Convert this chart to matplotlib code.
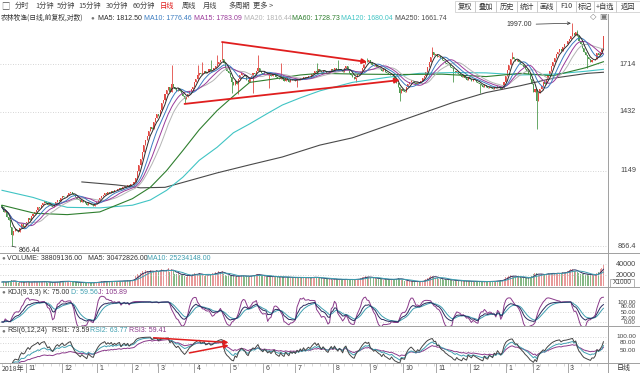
import matplotlib
matplotlib.use("Agg")
import matplotlib.pyplot as plt
import matplotlib.transforms as mtransforms
from matplotlib.lines import Line2D
from matplotlib.patches import Rectangle
import numpy as np
import pandas as pd

# ---- data (daily bars) ----
closes = [
    1002, 985, 990, 968, 955, 930, 905, 918, 925, 920,
    912, 928, 940, 932, 936, 950, 962, 955, 970, 978,
    985, 992, 1004, 998, 1012, 1020, 1025, 1018, 1010, 1015,
    1008, 1002, 1010, 1022, 1030, 1026, 1036, 1045, 1040, 1042,
    1050, 1058, 1062, 1055, 1048, 1040, 1035, 1030, 1024, 1028,
    1022, 1018, 1012, 1020, 1015, 1010, 1008, 1015, 1022, 1030,
    1038, 1045, 1050, 1056, 1052, 1060, 1058, 1066, 1062, 1070,
    1068, 1074, 1078, 1072, 1080, 1085, 1082, 1090, 1086, 1092,
    1095, 1100, 1120, 1150, 1175, 1200, 1232, 1265, 1290, 1310,
    1335, 1355, 1345, 1380, 1400, 1420, 1410, 1445, 1480, 1500,
    1530, 1555, 1570, 1545, 1590, 1575, 1560, 1548, 1565, 1552,
    1535, 1520, 1505, 1515, 1530, 1548, 1560, 1575, 1600, 1620,
    1645, 1660, 1648, 1655, 1670, 1658, 1665, 1680, 1672, 1676,
    1690, 1700, 1715, 1728, 1740, 1745, 1720, 1690, 1670, 1655,
    1630, 1600, 1585, 1610, 1590, 1620, 1645, 1660, 1650, 1640,
    1615, 1600, 1625, 1640, 1655, 1650, 1668, 1690, 1672, 1660,
    1650, 1665, 1658, 1645, 1652, 1640, 1648, 1655, 1635, 1628,
    1620, 1632, 1618, 1610, 1625, 1615, 1605, 1620, 1612, 1618,
    1610, 1622, 1615, 1628, 1620, 1635, 1625, 1632, 1640, 1636,
    1648, 1660, 1672, 1665, 1680, 1670, 1662, 1675, 1668, 1660,
    1655, 1668, 1680, 1672, 1688, 1678, 1670, 1682, 1676, 1665,
    1690, 1700, 1680, 1660, 1645, 1630, 1620, 1635, 1648, 1655,
    1670, 1690, 1712, 1730, 1725, 1740, 1718, 1710, 1700, 1705,
    1698, 1690, 1685, 1672, 1680, 1665, 1660, 1650, 1642, 1648,
    1630, 1610, 1595, 1570, 1540, 1560, 1552, 1545, 1570, 1590,
    1605, 1615, 1608, 1598, 1590, 1602, 1596, 1610, 1625, 1640,
    1665, 1695, 1725, 1760, 1790, 1775, 1782, 1760, 1768, 1750,
    1740, 1735, 1722, 1715, 1705, 1698, 1690, 1672, 1660, 1668,
    1650, 1642, 1630, 1638, 1625, 1615, 1630, 1620, 1610, 1618,
    1612, 1605, 1598, 1590, 1582, 1575, 1585, 1570, 1565, 1575,
    1568, 1560, 1572, 1565, 1578, 1570, 1560, 1568, 1600, 1640,
    1675, 1710, 1745, 1762, 1748, 1735, 1740, 1725, 1715, 1705,
    1695, 1680, 1668, 1650, 1620, 1590, 1545, 1560, 1490, 1535,
    1560, 1580, 1600, 1590, 1620, 1645, 1670, 1700, 1730, 1755,
    1780, 1795, 1810, 1800, 1830, 1845, 1850, 1865, 1880, 1900,
    1925, 1910, 1935, 1900, 1870, 1850, 1820, 1790, 1775, 1760,
    1745, 1730, 1742, 1738, 1748, 1785, 1775, 1790, 1812, 1900,
]
first_open = 1010
wick_high = {104: 1710, 120: 1708, 123: 1727, 128: 1740, 132: 1774,
             135: 1860, 157: 1775, 171: 1720, 193: 1720, 206: 1740,
             224: 1752, 264: 1825, 313: 1790, 350: 1997, 353: 1950, 369: 1900}
wick_low = {6: 866.44, 112: 1480, 141: 1540, 145: 1530, 154: 1540,
            164: 1565, 181: 1570, 217: 1600, 244: 1490, 277: 1600,
            293: 1540, 328: 1345, 359: 1690}

volumes = [  # x1000
    7200, 8100, 6500, 7800, 9200, 8800, 10500, 9000, 7600, 6900,
    6200, 7400, 8300, 6800, 7100, 7900, 8600, 6400, 7000, 7700,
    8200, 7500, 6900, 7300, 8000, 9100, 8400, 6700, 6300, 7100,
    6600, 6100, 7000, 7600, 8100, 7400, 8900, 9400, 8200, 7700,
    8500, 9000, 7800, 7200, 6800, 6400, 6900, 6200, 5900, 6300,
    6000, 5700, 6100, 6600, 5800, 5500, 6200, 6800, 7100, 7600,
    7900, 8300, 7400, 8600, 8000, 7300, 8800, 9200, 8400, 8700,
    8100, 8900, 9500, 8600, 9300, 9900, 8800, 10200, 9600, 10800,
    11500, 13000, 17500, 22000, 20500, 24000, 26500, 23000, 28500, 27000,
    25000, 29500, 24500, 27500, 26000, 30000, 25500, 28000, 31000, 27500,
    26000, 29000, 32000, 25500, 30500, 27000, 22500, 21000, 23500, 20000,
    19500, 22000, 18500, 17000, 19000, 20500, 18000, 21500, 23000, 22500,
    21000, 24000, 19500, 20500, 18500, 22000, 19000, 21500, 20000, 23000,
    22500, 25000, 24000, 26500, 23500, 28000, 22000, 19500, 18000, 20500,
    19000, 17500, 18500, 16500, 17800, 19200, 18000, 20000, 17500, 16800,
    18200, 17000, 19000, 18500, 20500, 19500, 21500, 22500, 19000, 18000,
    17500, 18800, 17200, 16500, 18000, 17600, 16200, 17800, 16800, 15500,
    16000, 17200, 15800, 16600, 15200, 16800, 15500, 14800, 16200, 15000,
    15600, 14500, 16000, 15200, 14800, 16400, 15000, 14200, 15500, 14800,
    15800, 17000, 16200, 15000, 14500, 13800, 14600, 13500, 12800, 13200,
    12500, 13600, 12200, 11800, 12800, 12000, 11500, 12400, 11800, 11200,
    12000, 12800, 11600, 11000, 11800, 12500, 11200, 12600, 13000, 12200,
    13800, 15500, 16800, 17500, 16200, 15800, 14800, 15500, 14200, 13800,
    13200, 12800, 13600, 12200, 11800, 12500, 11600, 12000, 11200, 12400,
    11800, 12600, 13500, 14200, 13000, 11500, 10800, 9800, 9200, 8800,
    8500, 9000, 8200, 7800, 8600, 8000, 7500, 8300, 9200, 10500,
    12500, 14800, 16500, 17800, 18500, 16200, 15000, 14200, 13500, 12800,
    12200, 11800, 12500, 11200, 10800, 11500, 10200, 9800, 10500, 9600,
    9200, 9800, 8800, 9500, 8600, 9000, 8400, 8800, 8200, 8600,
    8000, 8500, 7800, 8200, 7600, 8100, 7500, 8300, 7900, 8400,
    8200, 8800, 8500, 9200, 9800, 9400, 10200, 11000, 13500, 15500,
    17000, 18500, 19500, 18000, 16500, 17200, 15800, 16800, 15500, 14800,
    15200, 14500, 13800, 15000, 16500, 18500, 21000, 24500, 23000, 20500,
    19500, 21000, 22500, 20800, 21800, 23500, 22000, 24000, 23200, 21500,
    22800, 24500, 23500, 22000, 25500, 24000, 26000, 27500, 29500, 31000,
    30500, 28000, 26500, 24800, 23500, 22000, 21500, 22800, 20500, 21800,
    21000, 19800, 19500, 19200, 20500, 23000, 26000, 31500, 33000, 38809,
]

# long moving averages (history precedes the window)
ma60_bars = [0, 20, 40, 60, 80, 91, 101, 111, 121, 132, 142, 152, 163, 183,
             195, 220, 245, 270, 297, 318, 338, 358, 369]
ma60_vals = [1010, 980, 975, 985, 1035, 1080, 1150, 1240, 1340, 1440, 1520,
             1600, 1615, 1645, 1655, 1650, 1648, 1650, 1635, 1655, 1640, 1690,
             1728.73]
ma120_bars = [0, 19, 29, 40, 60, 80, 91, 101, 111, 121, 132, 142, 152, 163,
              172, 183, 195, 215, 236, 256, 277, 297, 318, 338, 358, 369]
ma120_vals = [1068, 1040, 1020, 1002, 1000, 1010, 1030, 1068, 1122, 1195, 1255,
              1325, 1370, 1425, 1470, 1510, 1550, 1600, 1630, 1655, 1660, 1658,
              1645, 1650, 1668, 1680.04]
ma250_bars = [49, 70, 85, 100, 111, 132, 152, 172, 195, 215, 236, 256, 277,
              297, 318, 338, 359, 369]
ma250_vals = [1102, 1090, 1078, 1080, 1100, 1140, 1175, 1210, 1265, 1300, 1360,
              1420, 1485, 1540, 1580, 1625, 1655, 1661.74]

month_bars = [15, 37, 58, 80, 96, 118, 140, 160, 180, 203, 226, 246, 266, 287,
              309, 326, 347]
month_labels = ['11', '12', '1', '2', '3', '4', '5', '6', '7', '8', '9', '10',
                '11', '12', '1', '2', '3']
price_ticks = [1714, 1432, 1149, 866.4]

# hand-drawn trend arrows: (bar, value) start -> end
price_arrows = [((135, 1861), (224, 1727)), ((112, 1476), (244, 1614))]
rsi_arrows = [((93, 97), (139, 80)), ((115, 43), (139, 70))]

# ---- style ----
CN = ['Noto Sans CJK SC', 'DejaVu Sans']
NUM = ['Liberation Sans', 'DejaVu Sans']
FS = 5.0
UP, DOWN = '#e24a44', '#4f9a4f'
C_MA = {'MA5': '#2a2a2a', 'MA10': '#3b7cc0', 'MA15': '#9a3a9a',
        'MA20': '#b4b4b4', 'MA60': '#2f7f2f', 'MA120': '#40c4c4',
        'MA250': '#4a4a4a'}
C_K, C_D, C_J = '#2b2b5e', '#3f9fb0', '#8b3a8b'
GRID = dict(color='#c8c8c8', lw=0.6, ls=(0, (1, 2)))
SEP = '#a0a0a0'

W, H = 640, 373
fig = plt.figure(figsize=(6.4, 3.73), dpi=100)


def rect(x0, y0, x1, y1):
    return [x0 / W, 1 - y1 / H, (x1 - x0) / W, (y1 - y0) / H]


def ftext(x, y, s, **kw):
    kw.setdefault('va', 'center')
    kw.setdefault('fontsize', FS)
    fig.text(x / W, 1 - y / H, s, **kw)


def hline(y, x0=0, x1=W, **kw):
    fig.add_artist(Line2D([x0 / W, x1 / W], [1 - y / H, 1 - y / H], **kw))


def vline(x, y0, y1, **kw):
    fig.add_artist(Line2D([x / W, x / W], [1 - y0 / H, 1 - y1 / H], **kw))


def sma(x, n, m=1):
    x = np.asarray(x, float)
    out = np.empty_like(x)
    out[0] = x[0]
    for i in range(1, len(x)):
        out[i] = (m * x[i] + (n - m) * out[i - 1]) / n
    return out


# ---- derived series ----
c = np.array(closes, float)
o = np.r_[first_open, c[:-1]]
hi = np.maximum(o, c)
lo = np.minimum(o, c)
for k, v in wick_high.items():
    hi[k] = v
for k, v in wick_low.items():
    lo[k] = v
x = np.arange(len(c))
up = c >= o
cols = np.where(up, UP, DOWN)
s = pd.Series(c)
mas = {n: s.rolling(n, min_periods=1).mean() for n in (5, 10, 15, 20)}

llv = pd.Series(lo).rolling(9, min_periods=1).min().values
hhv = pd.Series(hi).rolling(9, min_periods=1).max().values
rsv = np.where(hhv > llv, (c - llv) / np.maximum(hhv - llv, 1e-9) * 100, 50)
K = sma(rsv, 3)
D = sma(K, 3)
J = 3 * K - 2 * D

diff = np.r_[0.0, np.diff(c)]
gain = np.maximum(diff, 0)
absd = np.abs(diff)


def rsi(n):
    a, b = sma(gain[1:], n), sma(absd[1:], n)
    r = np.where(b > 0, a / np.maximum(b, 1e-9) * 100, 50)
    return np.r_[r[0], r]


vol = np.array(volumes, float)
vma5 = pd.Series(vol).rolling(5, min_periods=1).mean()
vma10 = pd.Series(vol).rolling(10, min_periods=1).mean()

XL = (-1.23, 371.8)


def base(ax):
    ax.set_xlim(*XL)
    ax.tick_params(which='both', left=False, labelleft=False,
                   bottom=False, labelbottom=False)
    for sp in ax.spines.values():
        sp.set_visible(False)
    ax.patch.set_alpha(0)


def right_labels(ax, vals, fmt, fs=5.2):
    tr = mtransforms.blended_transform_factory(fig.transFigure, ax.transData)
    for v in vals:
        ax.text(636 / W, v, fmt % v, transform=tr, ha='right', va='center',
                fontsize=fs, family=NUM, color='#444444')


# ---- main price panel ----
ax = fig.add_axes(rect(0, 14, 608, 253))
ax.set_yscale('log')
ax.set_ylim(844.5, 2067)
base(ax)
for p in price_ticks:
    ax.axhline(p, **GRID)
ax.vlines(x, lo, hi, colors=cols, lw=0.6)
ax.bar(x, np.abs(c - o), bottom=np.minimum(o, c), width=0.65, color=cols, lw=0)
ax.plot(ma250_bars, ma250_vals, color=C_MA['MA250'], lw=0.8)
ax.plot(ma120_bars, ma120_vals, color=C_MA['MA120'], lw=0.8)
ax.plot(ma60_bars, ma60_vals, color=C_MA['MA60'], lw=0.8)
ax.plot(x, mas[20], color=C_MA['MA20'], lw=0.7)
ax.plot(x, mas[15], color=C_MA['MA15'], lw=0.7)
ax.plot(x, mas[10], color=C_MA['MA10'], lw=0.7)
ax.plot(x, mas[5], color=C_MA['MA5'], lw=0.7)
for (a, b) in price_arrows:
    ax.annotate('', xy=b, xytext=a,
                arrowprops=dict(arrowstyle='-|>', color='#e01e1e', lw=1.3,
                                mutation_scale=7, shrinkA=0, shrinkB=0))
ax.annotate('866.44', xy=(6, 866.44), xytext=(5, -3), textcoords='offset points',
            fontsize=FS, family=NUM, color='#333333', va='center',
            arrowprops=dict(arrowstyle='-', lw=0.5, color='#333333',
                            shrinkA=0, shrinkB=0))
ax.annotate('1997.00', xy=(349, 1997), xytext=(-28, -1), textcoords='offset points',
            fontsize=FS, family=NUM, color='#333333', va='center', ha='right',
            arrowprops=dict(arrowstyle='->', lw=0.5, color='#333333',
                            shrinkA=1, shrinkB=0, mutation_scale=5))
right_labels(ax, price_ticks, '%g')

# ---- volume panel ----
av = fig.add_axes(rect(0, 253, 608, 287))
base(av)
av.set_ylim(-1818, 60000)
for v in (20000, 40000):
    av.axhline(v, **GRID)
vcols = np.where(up, '#e89a9a', '#86b886')
av.bar(x, vol, width=0.6, color=vcols, lw=0)
av.plot(x, vma5, color=C_K, lw=0.7)
av.plot(x, vma10, color=C_D, lw=0.7)
right_labels(av, (40000, 20000), '%d')

# ---- KDJ panel ----
ak = fig.add_axes(rect(0, 287, 608, 326))
base(ak)
ak.set_ylim(-20, 175)
for v in (100, 50, 0):
    ak.axhline(v, **GRID)
ak.plot(x, J, color=C_J, lw=0.7)
ak.plot(x, D, color=C_D, lw=0.7)
ak.plot(x, K, color=C_K, lw=0.7)
right_labels(ak, (100, 80, 50, 20, 0), '%.2f', fs=4.3)

# ---- RSI panel ----
ar = fig.add_axes(rect(0, 326, 608, 363))
base(ar)
ar.set_ylim(7, 139)
for v in (100, 80, 50):
    ar.axhline(v, **GRID)
ar.plot(x, rsi(24), color=C_J, lw=0.7)
ar.plot(x, rsi(12), color=C_D, lw=0.7)
ar.plot(x, rsi(6), color='#444444', lw=0.7)
for (a, b) in rsi_arrows:
    ar.annotate('', xy=b, xytext=a,
                arrowprops=dict(arrowstyle='-|>', color='#e01e1e', lw=1.1,
                                mutation_scale=6, shrinkA=0, shrinkB=0))
right_labels(ar, (100, 80, 50), '%.2f', fs=4.6)

# ---- date row ----
ad = fig.add_axes(rect(0, 363, 608, 373))
base(ad)
ad.set_ylim(0, 1)
ad.vlines(month_bars, 0, 1, color='#999999', lw=0.6)
ad.vlines(np.arange(0, len(c), 5), 0.75, 1, color='#bbbbbb', lw=0.4)
ad.text(0, 0.45, '2018年', fontsize=FS, family=CN, color='#444444', va='center')
for b, lab in zip(month_bars, month_labels):
    ad.text(b + 1.5, 0.45, lab, fontsize=FS, family=NUM, color='#444444',
            va='center')

# ---- frame lines ----
for yy in (253, 287, 326, 363):
    hline(yy, color=SEP, lw=0.7)
vline(608, 14, 373, color=SEP, lw=0.7)
fig.add_artist(Rectangle((610 / W, 1 - 287 / H), 24 / W, 8 / H,
                         transform=fig.transFigure, fill=False, ec='#999999', lw=0.5))
ftext(622, 283, 'X1000', fontsize=4.8, family=NUM, color='#444444', ha='center')
ftext(624, 368, '日线', family=CN, color='#333333', ha='center')

# ---- toolbar ----
ftext(5, 6, '□', family=CN, color='#555555', ha='center', fontsize=6)
tabs = [(15, '分时'), (35, '1分钟'), (57, '5分钟'), (78, '15分钟'), (106, '30分钟'),
        (133, '60分钟'), (160, '日线'), (182, '周线'), (203, '月线'),
        (228, '多周期'), (253, '更多 >')]
for tx, lab in tabs:
    ftext(tx, 6, lab, family=CN, color='#e01e1e' if lab == '日线' else '#444444',
          fontsize=5.2)
btn_edges = [455, 475, 496, 517, 537, 556, 576, 594, 616, 640]
btns = ['复权', '叠加', '历史', '统计', '画线', 'F10', '标记', '+自选', '返回']
for i, lab in enumerate(btns):
    x0, x1 = btn_edges[i], btn_edges[i + 1]
    fig.add_artist(Rectangle((x0 / W, 1 - 12 / H), (x1 - x0) / W, 11 / H,
                             transform=fig.transFigure, fill=False,
                             ec='#c8c8c8', lw=0.5))
    ftext((x0 + x1) / 2, 6.5, lab, family=CN, color='#333333', ha='center',
          fontsize=5.2)

# ---- legends ----
ftext(1, 18, '农林牧渔(日线,前复权,对数)', family=CN, color='#333333', fontsize=4.9)
ftext(92, 18, '●', family=NUM, color='#777777', ha='center', fontsize=4.5)
leg = [(98, 'MA5: 1812.50', 'MA5'), (144, 'MA10: 1776.46', 'MA10'),
       (194, 'MA15: 1783.09', 'MA15'), (244, 'MA20: 1816.44', 'MA20'),
       (292, 'MA60: 1728.73', 'MA60'), (341, 'MA120: 1680.04', 'MA120'),
       (395, 'MA250: 1661.74', 'MA250')]
for tx, lab, key in leg:
    ftext(tx, 18, lab, family=NUM, color=C_MA[key])
ftext(593, 17, '◇', family=['DejaVu Sans'], color='#777777', ha='center', fontsize=6)
ftext(603, 17, '▣', family=['DejaVu Sans'], color='#777777', ha='center', fontsize=6)


def header(y, items):
    ftext(3, y, '●', family=NUM, color='#777777', ha='center', fontsize=4.5)
    for tx, lab, col in items:
        ftext(tx, y, lab, family=NUM, color=col)


header(258, [(7, 'VOLUME: 38809136.00', '#333333'),
             (88, 'MA5: 30472826.00', '#333333'),
             (147, 'MA10: 25234148.00', C_D)])
header(292, [(7, 'KDJ(9,3,3)', '#333333'), (43, 'K: 75.00', '#333333'),
             (71, 'D: 59.56', C_D), (98, 'J: 105.89', C_J)])
header(331, [(7, 'RSI(6,12,24)', '#333333'), (52, 'RSI1: 73.59', '#333333'),
             (90, 'RSI2: 63.77', C_D), (129, 'RSI3: 59.41', C_J)])

fig.savefig('out.png', dpi=100)
